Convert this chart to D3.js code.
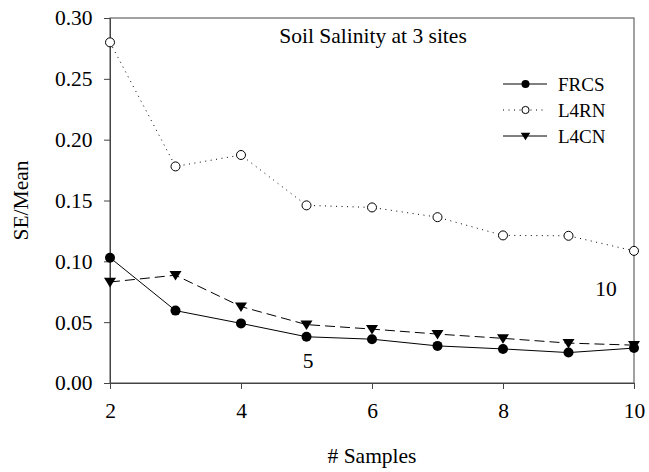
<!DOCTYPE html>
<html>
<head>
<meta charset="utf-8">
<script src="https://cdn.jsdelivr.net/npm/d3@7"></script>
<style>
  html, body { margin: 0; padding: 0; background: #fff; }
  svg text { font-family: "Liberation Serif", "Times New Roman", serif; fill: #000; }
</style>
</head>
<body>
<svg id="chart" width="649" height="472"></svg>
<script>
// Number of samples
const samples = [2, 3, 4, 5, 6, 7, 8, 9, 10];
// SE/Mean per site
const frcs = [0.103, 0.0595, 0.049, 0.038, 0.036, 0.0305, 0.028, 0.025, 0.0287];
const l4rn = [0.280, 0.178, 0.1874, 0.146, 0.1443, 0.1363, 0.1213, 0.121, 0.1086];
const l4cn = [0.083, 0.0886, 0.0628, 0.048, 0.0443, 0.0402, 0.0367, 0.0328, 0.0311];
const seriesNames = ["FRCS", "L4RN", "L4CN"];
const xTicks = [2, 4, 6, 8, 10];
const yTicks = [0, 0.05, 0.10, 0.15, 0.20, 0.25, 0.30];

const svg = d3.select("#chart");
const margin = { left: 110, right: 15, top: 18, bottom: 89 };
const W = 649, H = 472;
const x = d3.scaleLinear().domain([2, 10]).range([margin.left, W - margin.right]);
const y = d3.scaleLinear().domain([0, 0.30]).range([H - margin.bottom, margin.top]);

const serif = '"Liberation Serif", "Times New Roman", serif';
const font = 21.5;

// frame
svg.append("rect")
  .attr("x", x(2)).attr("y", y(0.30))
  .attr("width", x(10) - x(2)).attr("height", y(0) - y(0.30))
  .attr("fill", "none").attr("stroke", "#444").attr("stroke-width", 1);

// axes
const xAxis = svg.append("g")
  .attr("transform", `translate(0,${y(0)})`)
  .call(d3.axisBottom(x).tickValues(xTicks).tickSize(6).tickPadding(13.5).tickFormat(d3.format("d")));
const yAxis = svg.append("g")
  .attr("transform", `translate(${x(2)},0)`)
  .call(d3.axisLeft(y).tickValues(yTicks).tickSize(6).tickPadding(11.5).tickFormat(d3.format(".2f")));
[xAxis, yAxis].forEach(g => {
  g.attr("font-family", serif).attr("font-size", font);
  g.select(".domain").attr("stroke", "#444");
  g.selectAll(".tick line").attr("stroke", "#444");
  g.selectAll(".tick text").attr("fill", "#000");
});

function label(sel) {
  return sel.attr("font-family", serif).attr("font-size", font);
}

// axis titles
label(svg.append("text"))
  .attr("x", x(6)).attr("y", 463)
  .attr("text-anchor", "middle")
  .text("# Samples");
label(svg.append("text"))
  .attr("transform", `translate(28,${y(0.15)}) rotate(-90)`)
  .attr("text-anchor", "middle")
  .text("SE/Mean");

// chart title
label(svg.append("text"))
  .attr("x", 373).attr("y", 43)
  .attr("text-anchor", "middle")
  .text("Soil Salinity at 3 sites");

const line = d3.line().x(d => x(d[0])).y(d => y(d[1]));
const styles = {
  FRCS: { values: frcs, dash: null, marker: "filled" },
  L4RN: { values: l4rn, dash: "1,4.5", marker: "open" },
  L4CN: { values: l4cn, dash: "10,5", marker: "tri" }
};

function drawMarker(g, kind, cx, cy, scale) {
  if (kind === "filled") {
    g.append("circle").attr("cx", cx).attr("cy", cy).attr("r", 5 * scale).attr("fill", "#000");
  } else if (kind === "open") {
    g.append("circle").attr("cx", cx).attr("cy", cy).attr("r", 4.5 * scale)
      .attr("fill", "#fff").attr("stroke", "#000").attr("stroke-width", 1);
  } else {
    const s = 6 * scale;
    g.append("path")
      .attr("d", `M${cx - s},${cy - s * 0.7}L${cx + s},${cy - s * 0.7}L${cx},${cy + s * 0.9}Z`)
      .attr("fill", "#000");
  }
}

// series lines then markers
seriesNames.forEach(name => {
  const st = styles[name];
  const pts = samples.map((s, i) => [s, st.values[i]]);
  svg.append("path").datum(pts)
    .attr("d", line).attr("fill", "none").attr("stroke", "#000").attr("stroke-width", 1)
    .attr("stroke-dasharray", st.dash);
});
seriesNames.forEach(name => {
  const st = styles[name];
  const g = svg.append("g");
  samples.forEach((s, i) => drawMarker(g, st.marker, x(s), y(st.values[i]), 1));
});

// legend
const legend = svg.append("g");
seriesNames.forEach((name, i) => {
  const st = styles[name];
  const ly = 84 + i * 26;
  legend.append("line").attr("x1", 503).attr("x2", 547).attr("y1", ly).attr("y2", ly)
    .attr("stroke", "#000").attr("stroke-width", 1)
    .attr("stroke-dasharray", name === "L4RN" ? "1,4.5" : null);
  drawMarker(legend, st.marker, 525.5, ly, 0.8);
  legend.append("text").attr("x", 558).attr("y", ly + 6.5)
    .attr("font-family", serif).attr("font-size", 19).text(name);
});

// sample-count annotations
label(svg.append("text")).attr("x", 308).attr("y", 368).attr("text-anchor", "middle").text("5");
label(svg.append("text")).attr("x", 606).attr("y", 296).attr("text-anchor", "middle").text("10");
</script>
</body>
</html>
